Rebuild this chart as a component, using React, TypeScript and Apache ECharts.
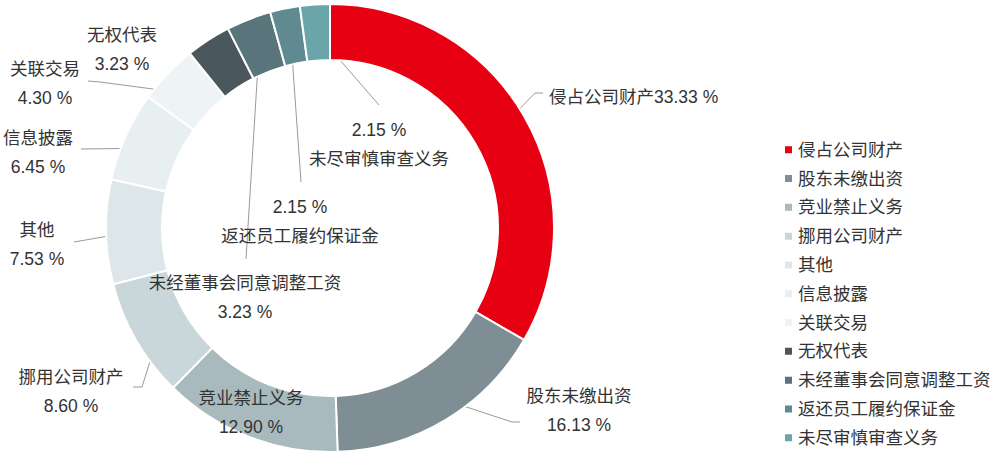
import React, { useEffect, useRef } from "react";
import * as echarts from "echarts";

// ---- data ----
const categories = [
  "侵占公司财产",
  "股东未缴出资",
  "竞业禁止义务",
  "挪用公司财产",
  "其他",
  "信息披露",
  "关联交易",
  "无权代表",
  "未经董事会同意调整工资",
  "返还员工履约保证金",
  "未尽审慎审查义务",
];
const percentValues = [33.33, 16.13, 12.9, 8.6, 7.53, 6.45, 4.3, 3.23, 3.23, 2.15, 2.15];
const colors = [
  "#e60012",
  "#7f8e95",
  "#a8babe",
  "#c9d7db",
  "#dde7ea",
  "#e8eff1",
  "#eef4f6",
  "#4a575d",
  "#59747a",
  "#5f8a92",
  "#6aa5aa",
];

// ---- label layout (style only) ----
// mode: "single" one line name+pct, "namePct" name over pct, "pctName" pct over name
const labelModes = ["single", "namePct", "namePct", "namePct", "namePct", "namePct", "namePct", "namePct", "namePct", "pctName", "pctName"];
const labelAnchors: [number, number][] = [
  [549, 97],
  [579, 410],
  [251, 412],
  [71, 391],
  [37, 244],
  [38, 152],
  [45, 83],
  [122, 49],
  [245, 297],
  [300, 221],
  [379, 144],
];
const labelAligns = ["left", "center", "center", "center", "center", "center", "center", "center", "center", "center", "center"];
// line bends/ends after the start point on the ring (null = no line)
const lineTails: ([number, number][] | null)[] = [
  [[535, 93], [543, 93]],
  [[512, 422], [520, 422]],
  null,
  [[142, 387], [133, 387]],
  [[74, 242]],
  [[81, 149]],
  [[100, 82], [88, 81]],
  [[210, 48], [200, 48]],
  [[246, 259]],
  [[301, 182]],
  [[379, 105]],
];

const CX = 330;
const CY = 228;
const R_IN = 168;
const R_OUT = 224;
const R_LINE = 195;

const fmtPct = (v: number) => v.toFixed(2) + " %";

export default function App() {
  const ref = useRef<HTMLDivElement>(null);
  useEffect(() => {
    if (!ref.current) return;
    const chart = echarts.init(ref.current, undefined, { renderer: "svg" });
    const total = percentValues.reduce((a, b) => a + b, 0);
    const mids: number[] = [];
    let cum = 0;
    percentValues.forEach((v) => {
      mids.push(((cum + v / 2) / total) * 360);
      cum += v;
    });
    const font = '"Liberation Sans", "Noto Sans CJK SC", sans-serif';
    const data = categories.map((name, i) => ({
      name,
      value: percentValues[i],
      itemStyle: { color: colors[i] },
      labelLine: { show: lineTails[i] !== null },
    }));
    chart.setOption({
      animation: false,
      legend: {
        orient: "vertical",
        left: 778,
        top: 136,
        icon: "rect",
        itemWidth: 9,
        itemHeight: 9,
        itemGap: 11.3,
        textStyle: { fontSize: 17.5, color: "#333", fontFamily: font },
        data: categories,
      },
      series: [
        {
          type: "pie",
          center: [CX, CY],
          radius: [R_IN, R_OUT],
          startAngle: 90,
          clockwise: true,
          avoidLabelOverlap: false,
          itemStyle: { borderColor: "#fff", borderWidth: 2 },
          label: {
            show: true,
            position: "outside",
            color: "#333",
            fontSize: 17.5,
            lineHeight: 29,
            fontFamily: font,
            formatter: (p: any) => {
              const i = p.dataIndex;
              const pct = fmtPct(p.value);
              if (labelModes[i] === "single") return p.name + pct;
              if (labelModes[i] === "pctName") return pct + "\n" + p.name;
              return p.name + "\n" + pct;
            },
          },
          labelLine: { show: true, lineStyle: { color: "#9a9a9a", width: 1 } },
          labelLayout: (params: any) => {
            const i = params.dataIndex;
            const a = (mids[i] * Math.PI) / 180;
            const start: [number, number] = [CX + R_LINE * Math.sin(a), CY - R_LINE * Math.cos(a)];
            const tail = lineTails[i];
            const out: any = {
              x: labelAnchors[i][0],
              y: labelAnchors[i][1],
              align: labelAligns[i],
              verticalAlign: "middle",
            };
            if (tail) {
              const pts = [start, ...tail];
              if (pts.length === 2) pts.push(tail[tail.length - 1]);
              out.labelLinePoints = pts;
            }
            return out;
          },
          data,
        },
      ],
    });
    return () => chart.dispose();
  }, []);
  return (
    <div
      ref={ref}
      style={{ position: "fixed", left: 0, top: 0, width: 1000, height: 463, background: "#fff" }}
    />
  );
}
